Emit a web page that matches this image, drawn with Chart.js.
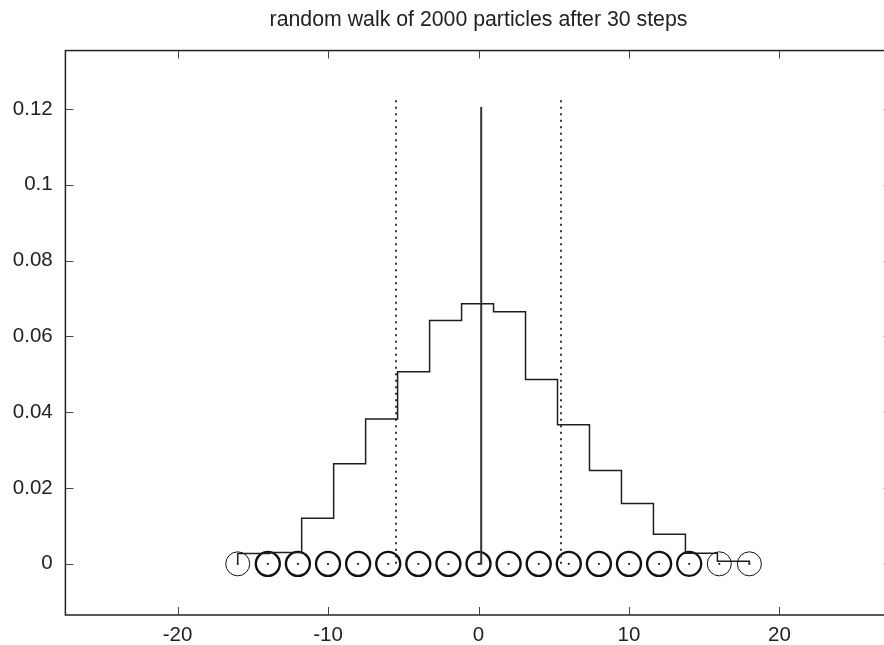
<!DOCTYPE html>
<html>
<head>
  <meta charset="utf-8">
  <script src="https://cdn.jsdelivr.net/npm/chart.js@4.4.1/dist/chart.umd.min.js"></script>
  <style>
    html, body { margin: 0; padding: 0; background: #fff; overflow: hidden; }
    canvas { display: block; }
  </style>
</head>
<body>
<!-- canvas is wider than the window: the right frame edge sits just off-screen -->
<canvas id="walkChart" width="906" height="645"></canvas>

<script type="text/javascript">
    // histogram of particle positions (bin edges + density per bin)
    const binEdges = [-16, -13.875, -11.75, -9.625, -7.5, -5.375, -3.25, -1.125, 1.0,
                      3.125, 5.25, 7.375, 9.5, 11.625, 13.75, 15.875, 18];
    const binDensity = [0.0027, 0.0030, 0.0120, 0.0264, 0.0382, 0.0507, 0.0642, 0.0686,
                        0.0665, 0.0486, 0.0367, 0.0246, 0.0159, 0.0078, 0.0028, 0.0007];

    // particle sites drawn as circles on the axis
    const sitePositions = [-16, -14, -12, -10, -8, -6, -4, -2, 0, 2, 4, 6, 8, 10, 12, 14, 16, 18];
    const siteLevel = [0, 0, 0, 0, 0, 0, 0, 0, 0, 0, 0, 0, 0, 0, 0, 0, 0, 0];

    // mean and +/- sigma markers
    const meanX = 0.18;
    const sigmaX = 5.48;
    const meanTop = 0.1205;
    const sigmaTop = 0.1225;

    const xTickValues = [-20, -10, 0, 10, 20];
    const yTickValues = [0, 0.02, 0.04, 0.06, 0.08, 0.1, 0.12];

    // outer sites are drawn lighter (fewer particles there)
    const circleLineWidths = [1, 2.4, 2.4, 2.4, 2.4, 2.4, 2.4, 2.4, 2.4,
                              2.4, 2.4, 2.4, 2.4, 2.4, 2.4, 2.2, 1, 1];

    // build step points for the histogram
    let histPoints = [{x: binEdges[0], y: 0}];
    for (let i = 0; i < binDensity.length; i++) {
        histPoints.push({x: binEdges[i], y: binDensity[i]});
    }
    histPoints.push({x: binEdges[binEdges.length - 1], y: 0});

    const sites = sitePositions.map((p, i) => ({x: p, y: siteLevel[i]}));

    // frame and inward ticks, gnuplot style
    const framePlugin = {
        id: 'frame',
        afterDatasetsDraw(chart) {
            const {ctx, chartArea: a, scales} = chart;
            ctx.save();
            ctx.strokeStyle = '#222';
            ctx.lineWidth = 1.5;
            ctx.strokeRect(a.left, a.top, a.right - a.left, a.bottom - a.top);

            ctx.strokeStyle = '#444';
            ctx.lineWidth = 1;
            ctx.beginPath();
            scales.x.ticks.forEach(t => {
                const px = Math.round(scales.x.getPixelForValue(t.value)) + 0.5;
                ctx.moveTo(px, a.bottom); ctx.lineTo(px, a.bottom - 8);
                ctx.moveTo(px, a.top); ctx.lineTo(px, a.top + 8);
            });
            scales.y.ticks.forEach(t => {
                const py = Math.round(scales.y.getPixelForValue(t.value)) + 0.5;
                ctx.moveTo(a.left, py); ctx.lineTo(a.left + 8, py);
                ctx.moveTo(a.right, py); ctx.lineTo(a.right - 8, py);
            });
            ctx.stroke();
            ctx.restore();
        }
    };

    const ctx = document.getElementById('walkChart').getContext('2d');

    let chart = new Chart(ctx, {
        type: 'scatter',
        data: {
            datasets: [
                {
                    label: 'histogram',
                    data: histPoints,
                    showLine: true,
                    stepped: true,
                    borderColor: '#1e1e1e',
                    borderWidth: 1.5,
                    pointRadius: 0
                },
                {
                    label: 'mean',
                    data: [{x: 0, y: 0}, {x: meanX, y: meanTop}],
                    showLine: true,
                    stepped: true,
                    borderColor: '#333',
                    borderWidth: 2,
                    pointRadius: 0
                },
                {
                    label: 'minus sigma',
                    data: [{x: -sigmaX, y: 0}, {x: -sigmaX, y: sigmaTop}],
                    showLine: true,
                    borderColor: '#333',
                    borderWidth: 2,
                    borderDash: [2, 4.5],
                    pointRadius: 0
                },
                {
                    label: 'plus sigma',
                    data: [{x: sigmaX, y: 0}, {x: sigmaX, y: sigmaTop}],
                    showLine: true,
                    borderColor: '#333',
                    borderWidth: 2,
                    borderDash: [2, 4.5],
                    pointRadius: 0
                },
                {
                    label: 'sites',
                    data: sites,
                    pointStyle: 'circle',
                    pointRadius: 12,
                    pointBorderWidth: circleLineWidths,
                    borderColor: '#111',
                    pointBorderColor: '#111',
                    pointBackgroundColor: 'rgba(0,0,0,0)',
                    backgroundColor: 'rgba(0,0,0,0)'
                },
                {
                    label: 'centres',
                    data: sites,
                    pointStyle: 'rect',
                    pointRadius: 1.3,
                    pointBorderWidth: 0,
                    pointBackgroundColor: '#111',
                    backgroundColor: '#111'
                }
            ]
        },
        options: {
            responsive: false,
            animation: false,
            layout: { padding: { left: 0, right: 0, top: 0, bottom: 0 } },
            plugins: {
                legend: { display: false },
                tooltip: { enabled: false },
                title: {
                    display: true,
                    fullSize: false,   // centre over the plot box, not the canvas
                    text: 'random walk of 2000 particles after 30 steps',
                    color: '#222',
                    font: { family: '"Liberation Sans", Arial, sans-serif', size: 21.3, weight: 'normal' },
                    padding: { top: 7, bottom: 18 }
                }
            },
            scales: {
                x: {
                    type: 'linear',
                    min: -27.45,
                    max: 27.45,
                    grid: { display: false, drawTicks: false },
                    border: { display: false },
                    afterBuildTicks: s => { s.ticks = xTickValues.map(v => ({value: v})); },
                    afterFit: s => { s.height = 30; },
                    ticks: {
                        color: '#222',
                        padding: 8,
                        maxRotation: 0,
                        font: { family: '"Liberation Sans", Arial, sans-serif', size: 20.5 },
                        callback: v => String(v)
                    }
                },
                y: {
                    type: 'linear',
                    min: -0.0135,
                    max: 0.1354,
                    grid: { display: false, drawTicks: false },
                    border: { display: false },
                    afterBuildTicks: s => { s.ticks = yTickValues.map(v => ({value: v})); },
                    afterFit: s => { s.width = 65.4; },
                    ticks: {
                        color: '#222',
                        padding: 12.7,
                        font: { family: '"Liberation Sans", Arial, sans-serif', size: 20.5 },
                        callback: v => String(+v.toFixed(4))
                    }
                }
            }
        },
        plugins: [framePlugin]
    });
</script>
</body>
</html>
